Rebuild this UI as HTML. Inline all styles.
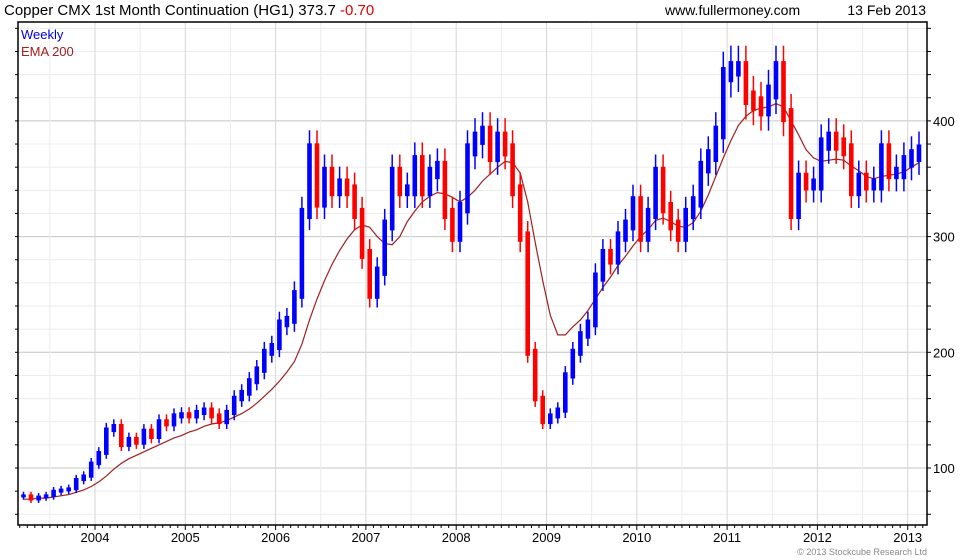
<!DOCTYPE html>
<html><head><meta charset="utf-8"><style>
body{margin:0;background:#fff;}
svg{display:block;font-family:"Liberation Sans",sans-serif;}
</style></head><body>
<svg id="chart" width="980" height="560" xmlns="http://www.w3.org/2000/svg">
<rect width="980" height="560" fill="#fff"/>
<text x="4" y="15" font-size="15" fill="#000">Copper CMX 1st Month Continuation (HG1) 373.7 <tspan fill="#e00000">-0.70</tspan></text>
<text x="665" y="15" font-size="14" fill="#000">www.fullermoney.com</text>
<text x="926" y="15" font-size="14" fill="#000" text-anchor="end">13 Feb 2013</text>
<g id="grid"></g>
<g id="ema"></g>
<g id="bars"></g>
<g id="axes"></g>
<text x="21" y="39" font-size="13" fill="#0000dd">Weekly</text>
<text x="21" y="56" font-size="13" fill="#a02020">EMA 200</text>
<text x="927" y="555" font-size="9" fill="#888" text-anchor="end">© 2013 Stockcube Research Ltd</text>
</svg>
<script>
const startYear = 2003 + 2/12; // first month: Mar 2003
const closes = [
76,73,75,76,80,81,82,90,93,104,
113,133,136,120,125,122,132,127,140,138,145,146,
145,148,150,145,140,148,160,165,175,185,200,205,
225,228,250,320,375,330,355,340,345,340,320,285,
250,270,310,355,340,340,365,340,355,360,320,300,
325,375,385,390,370,385,375,340,300,200,160,140,
145,150,180,200,215,225,265,285,280,300,310,330,
300,320,355,325,310,300,320,330,360,370,390,440,
445,445,420,415,410,425,445,405,320,350,345,345,
380,385,380,375,340,350,345,345,375,355,355,365,
370,374];
const ema = [
73,73,74,74,75,76,77,79,81,84,
88,93,99,104,108,111,114,117,120,123,126,128,
131,133,136,138,139,141,144,147,151,156,162,168,
175,183,192,207,228,246,262,276,288,298,306,310,
308,300,294,293,300,313,322,330,335,338,337,334,
330,334,340,348,354,360,365,364,355,330,295,262,
232,215,215,222,228,236,246,256,265,275,283,292,
300,306,314,316,313,309,308,312,322,336,352,368,
383,396,404,409,411,412,415,412,400,388,375,368,
365,366,367,366,361,357,352,350,352,353,354,356,
360,364];
const yTicks = [100,200,300,400];
const yearLabels = [2004,2005,2006,2007,2008,2009,2010,2011,2012,2013];

const L=18,R=927,T=22,B=525;
const NS="http://www.w3.org/2000/svg";
function xs(t){return 95+(t-2004)*90.3;}
function ys(v){return 468-(v-100)*1.157;}
function mk(tag,parent,attrs){const e=document.createElementNS(NS,tag);for(const k in attrs)e.setAttribute(k,attrs[k]);parent.appendChild(e);return e;}
const grid=document.getElementById('grid'),axes=document.getElementById('axes'),bars=document.getElementById('bars'),emaG=document.getElementById('ema');

for(let v=60;v<=480;v+=20){const y=ys(v);if(y<T||y>B)continue;
 const major=v%100===0;
 const l=mk('line',grid,{x1:L,x2:R,y1:y,y2:y,stroke:major?'#c4c4c4':'#ececec','stroke-width':1});
 
 
 const tk=mk('line',axes,{x1:R,x2:R+4,y1:y,y2:y,stroke:'#000'});
 
 
 const tl=mk('line',axes,{x1:L-3,x2:L,y1:y,y2:y,stroke:'#000'});
 
 
}
for(let h=2003.5;h<=2013.2;h+=0.5){const x=xs(h);if(x<L||x>R)continue;
 const major=Math.abs(h-Math.round(h))<0.01;
 const l=mk('line',grid,{x1:x,x2:x,y1:T,y2:B,stroke:major?'#d6d6d6':'#ececec'});
 
 
}
for(let m=0;m<130;m++){const x=xs(2003+m/12);if(x<L||x>R)continue;
 const t=mk('line',axes,{x1:x,x2:x,y1:B,y2:B+(m%12===0?5:3),stroke:'#000'});
 
 
}
yTicks.forEach(v=>{const t=mk('text',axes,{x:R+6,y:ys(v)+5,'font-size':13,fill:'#000'});t.textContent=v;
 
 });
yearLabels.forEach(yr=>{const t=mk('text',axes,{x:xs(yr),y:B+17,'font-size':13,fill:'#000','text-anchor':'middle'});t.textContent=yr;
 
 });
const frame=mk('path',axes,{d:`M${L},${T}H${R}V${B}H${L}Z`,fill:'none',stroke:'#000','stroke-width':1.5});



let d='';ema.forEach((v,i)=>{const x=xs(startYear+(i+0.5)/12);d+=(i?'L':'M')+x.toFixed(1)+','+ys(v).toFixed(1);});
const pl=mk('path',emaG,{d:d,fill:'none',stroke:'#a02020','stroke-width':1.2});



closes.forEach((c,i)=>{
 const o=i?closes[i-1]:c;
 const hi=Math.max(o,c)*1.045,lo=Math.min(o,c)*0.955;
 const x=xs(startYear+(i+0.5)/12);
 const col=c>=o?'#0000ff':'#ff0000';
 const w=mk('line',bars,{x1:x.toFixed(1),x2:x.toFixed(1),y1:ys(hi).toFixed(1),y2:ys(lo).toFixed(1),stroke:col,'stroke-width':1.5});
 
 
 const top=ys(Math.max(o,c)*1.015),bot=ys(Math.min(o,c)*0.985);
 const r=mk('rect',bars,{x:(x-2.3).toFixed(1),y:top.toFixed(1),width:4.6,height:Math.max(3,bot-top).toFixed(1),fill:col});
 
 
});
</script>
</body></html>
